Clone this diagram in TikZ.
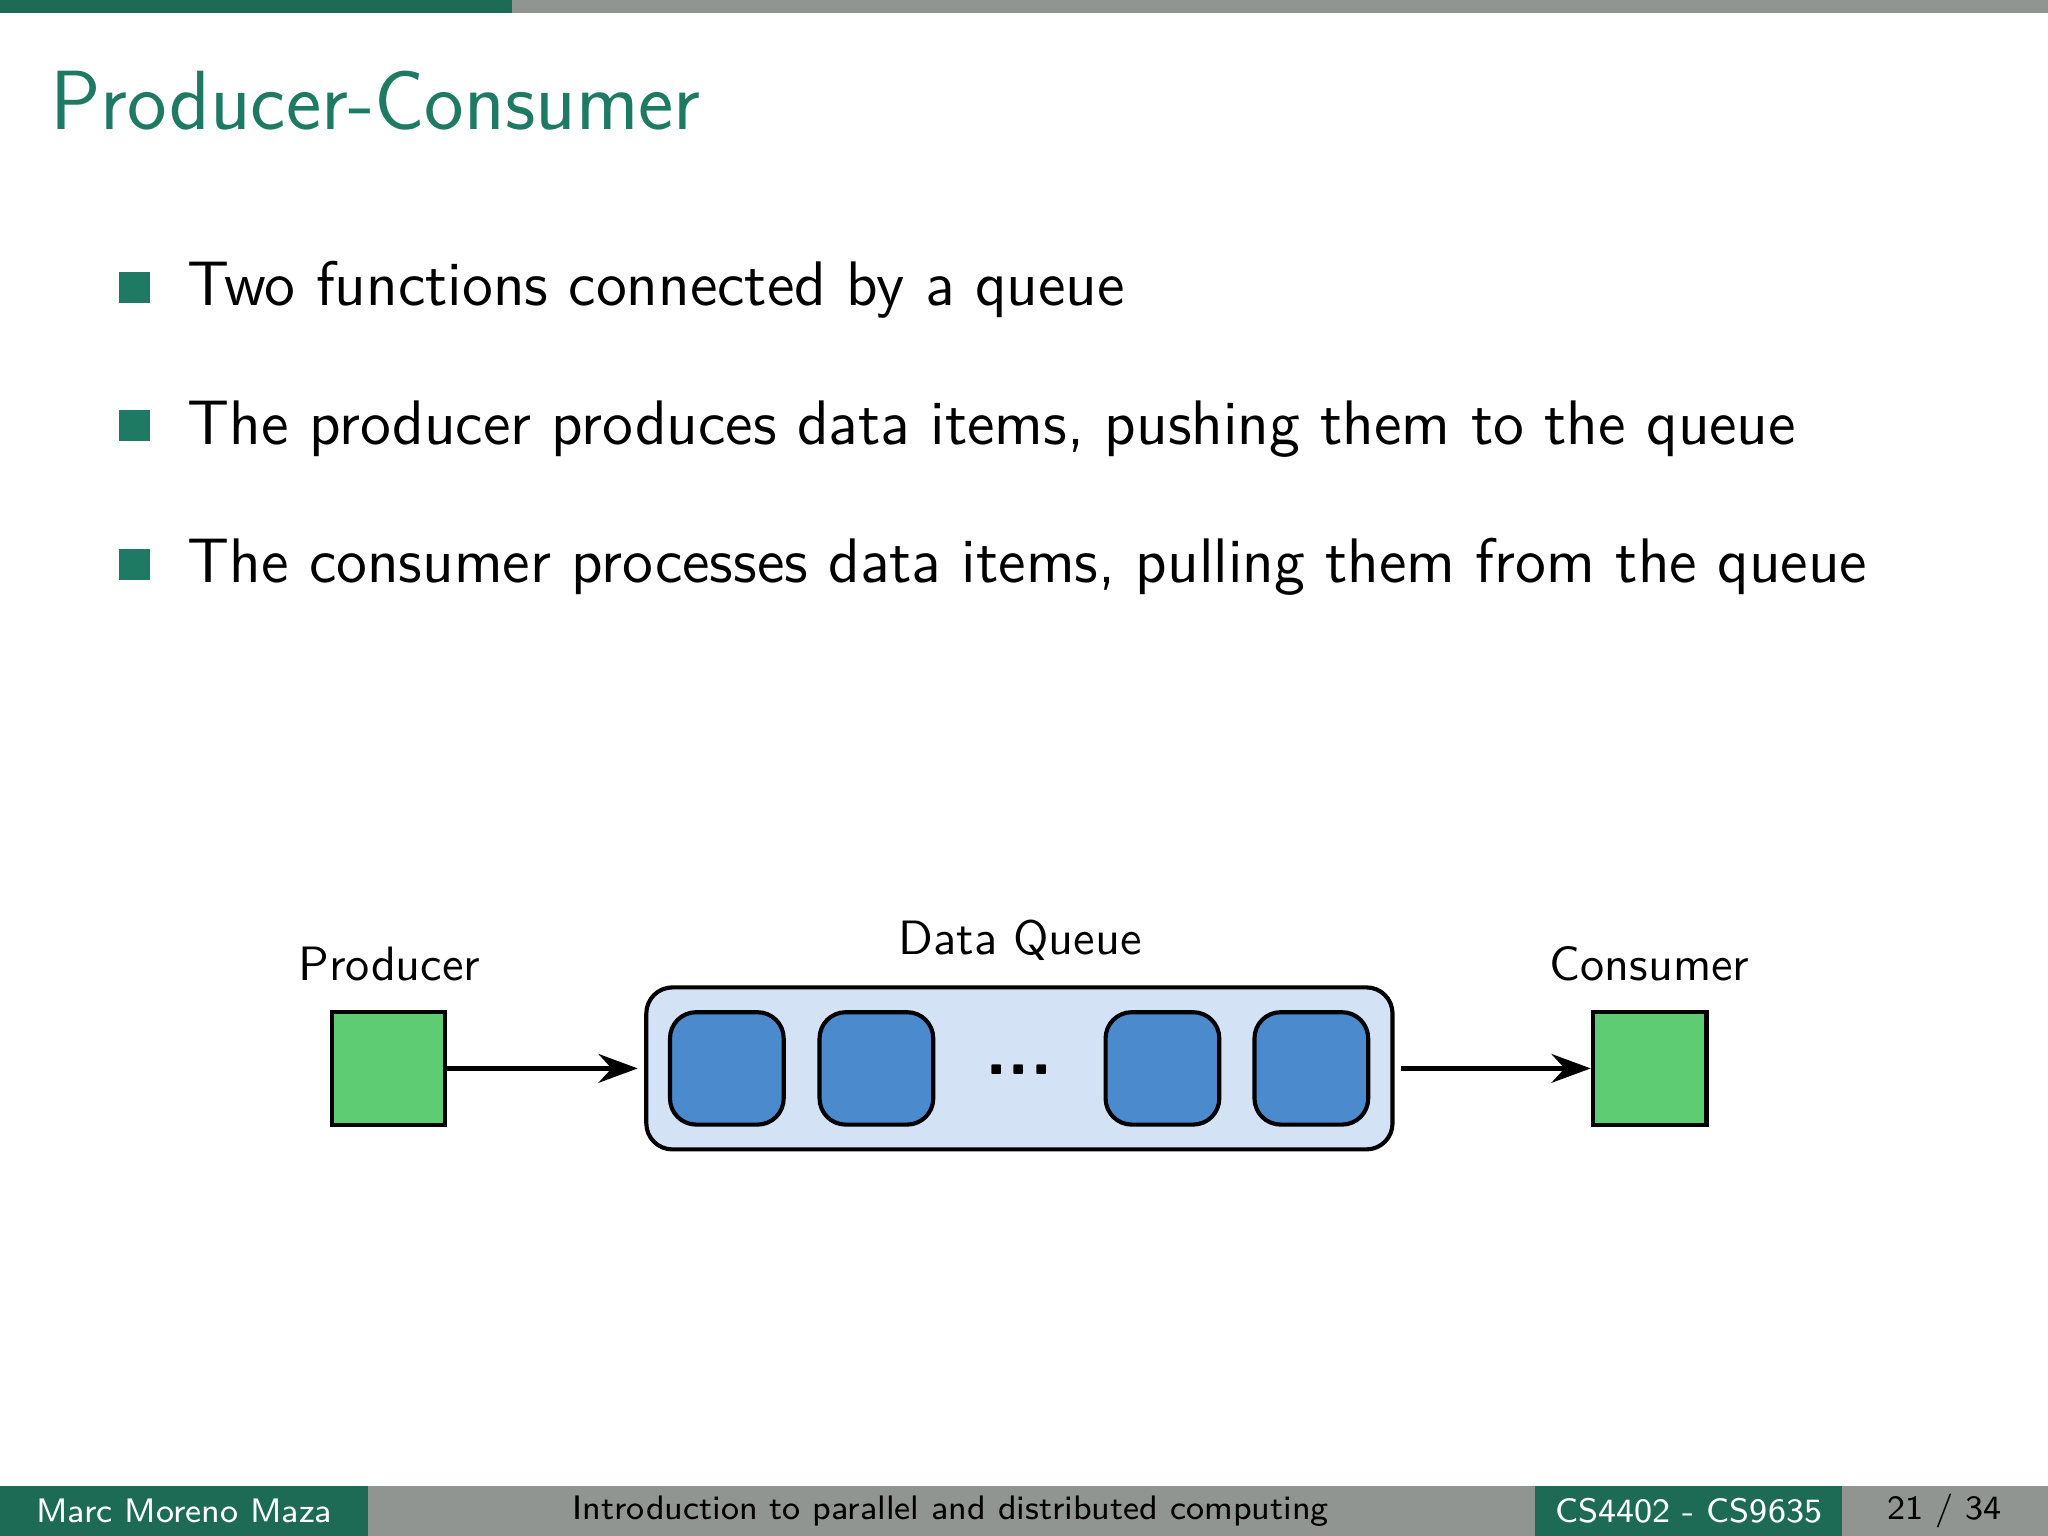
\documentclass[tikz,border=0pt]{standalone}
\usepackage{fontspec}
\usetikzlibrary{arrows.meta}
\definecolor{bgreen}{HTML}{1E7A62}
\definecolor{fgreen}{HTML}{1D6B55}
\definecolor{fgrey}{HTML}{919592}
\definecolor{pgreen}{HTML}{5ECC72}
\definecolor{qfill}{HTML}{D3E2F4}
\definecolor{ifill}{HTML}{4A8ACD}
\begin{document}
\begin{tikzpicture}[x=0.01cm,y=-0.01cm,font=\sffamily,
  proc/.style={draw=black,line width=0.9pt,fill=pgreen,minimum width=0.87cm,minimum height=0.86cm,inner sep=0pt},
  item/.style={draw=black,line width=0.9pt,fill=ifill,rounded corners=0.2cm,minimum width=0.87cm,minimum height=0.86cm,inner sep=0pt},
  lbl/.style={font=\sffamily\fontsize{10.5}{12}\selectfont},
  bul/.style={fill=bgreen,minimum size=0.24cm,inner sep=0pt},
  btxt/.style={anchor=base west,font=\sffamily\fontsize{13.7}{16}\selectfont},
  arr/.style={-{Stealth[length=0.3cm,width=0.22cm,inset=0.1cm]},line width=1pt},
  foot/.style={font=\sffamily\fontsize{7.4}{9}\selectfont}]
\useasboundingbox (0,0) rectangle (1568,1176);
\fill[fgrey] (392,0) rectangle (1568,10);
\fill[fgreen] (0,0) rectangle (392,10);
\node[anchor=base west,text=bgreen,font=\sffamily\fontsize{18.3}{22}\selectfont,inner sep=0pt] (title) at (38,99) {Producer-Consumer};
\node[bul] (b1) at (103,220) {};
\node[bul] (b2) at (103,326) {};
\node[bul] (b3) at (103,432) {};
\node[btxt,inner sep=0pt] (t1) at (143,234) {Two functions connected by a queue};
\node[btxt,inner sep=0pt] (t2) at (143,340) {The producer produces data items, pushing them to the queue};
\node[btxt,inner sep=0pt] (t3) at (143,446) {The consumer processes data items, pulling them from the queue};
% diagram
\node[proc] (prod) at (297.5,818) {};
\node[proc] (cons) at (1263,818) {};
\node[draw=black,line width=0.9pt,fill=qfill,rounded corners=0.2cm,minimum width=5.71cm,minimum height=1.24cm,inner sep=0pt] (queue) at (780.5,818) {};
\node[item] (i1) at (556.5,818) {};
\node[item] (i2) at (671,818) {};
\node[item] (i3) at (890,818) {};
\node[item] (i4) at (1004,818) {};
\node[font=\sffamily\bfseries\fontsize{16}{16}\selectfont,inner sep=0pt,anchor=base] (dots) at (780,823) {...};
\node[lbl,anchor=base] (lp) at (298,751) {Producer};
\node[lbl,anchor=base] (lq) at (781,731) {Data Queue};
\node[lbl,anchor=base] (lc) at (1263,751) {Consumer};
\draw[arr] (prod.east) -- ([xshift=-0.05cm]queue.west);
\draw[arr] ([xshift=0.05cm]queue.east) -- (cons.west);
% footer
\fill[fgrey] (0,1138) rectangle (1568,1176);
\fill[fgreen] (0,1138) rectangle (282,1176);
\fill[fgreen] (1175,1138) rectangle (1410,1176);
\node[foot,text=white] (f1) at (141,1157) {Marc Moreno Maza};
\node[foot] (f2) at (728,1157) {Introduction to parallel and distributed computing};
\node[foot,text=white] (f3) at (1293,1157) {CS4402 - CS9635};
\node[foot] (f4) at (1489,1157) {21 / 34};
\end{tikzpicture}
\end{document}
